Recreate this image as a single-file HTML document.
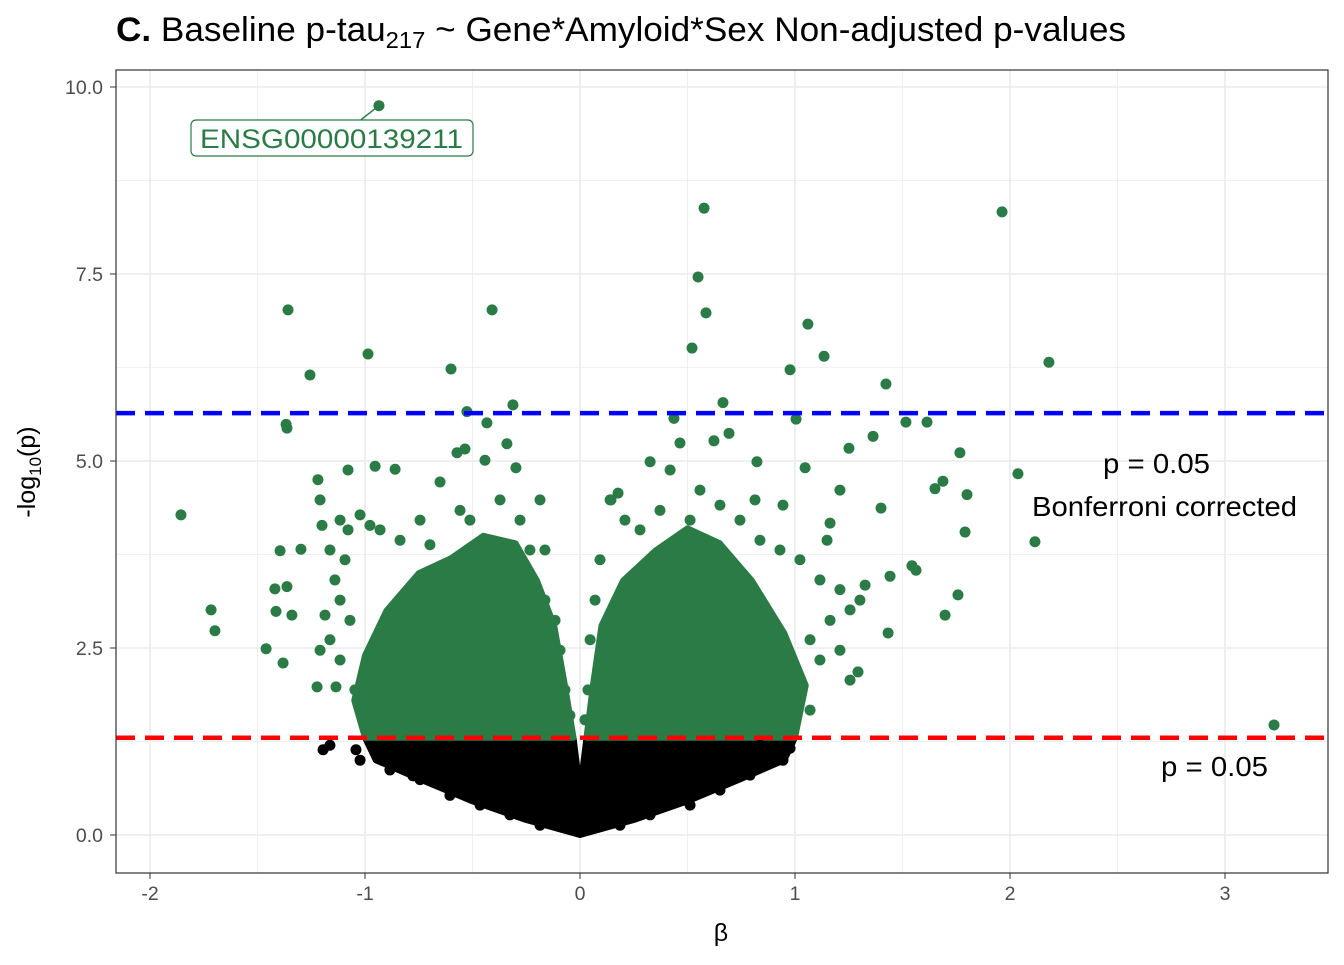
<!DOCTYPE html>
<html><head><meta charset="utf-8"><style>
body{margin:0;background:#fff;font-family:"Liberation Sans",Arial,sans-serif}
svg text{font-family:"Liberation Sans",Arial,sans-serif}
</style></head><body>
<svg id="chart" width="1344" height="960" viewBox="0 0 1344 960" xmlns="http://www.w3.org/2000/svg">
<rect width="1344" height="960" fill="#fff"/>
<text x="116" y="41" font-size="34" textLength="1010" lengthAdjust="spacingAndGlyphs" fill="#000"><tspan font-weight="bold">C.</tspan> Baseline p-tau<tspan font-size="23" dy="7">217</tspan><tspan dy="-7"> ~ Gene*Amyloid*Sex Non-adjusted p-values</tspan></text>
<g id="grid"></g>
<g id="clouds"></g>
<g id="points"></g>
<g id="lines"></g>
<rect x="116" y="70" width="1212" height="803" fill="none" stroke="#333" stroke-width="1.2"/>
<g id="axes"></g>
<text x="721" y="941" font-size="25" text-anchor="middle">β</text>
<text transform="translate(35,472) rotate(-90)" font-size="25" text-anchor="middle">-log<tspan font-size="17" dy="6">10</tspan><tspan dy="-6">(p)</tspan></text>
<text x="1103" y="473" font-size="28" textLength="107" lengthAdjust="spacingAndGlyphs">p = 0.05</text>
<text x="1032" y="516" font-size="28" textLength="265" lengthAdjust="spacingAndGlyphs">Bonferroni corrected</text>
<text x="1161" y="776" font-size="28" textLength="107" lengthAdjust="spacingAndGlyphs">p = 0.05</text>
<g id="label"></g>
</svg>
<script>
const xTicks=[-2,-1,0,1,2,3];
const yTicks=[0,2.5,5,7.5,10];
const yTickLabels=["0.0","2.5","5.0","7.5","10.0"];
const bonferroni=5.64;
const nominal=1.30;
const greenBeta=[-0.935,0.577,1.963,0.549,-1.358,-0.409,0.586,1.060,-0.986,0.521,1.135,2.181,-0.600,0.977,-1.256,1.423,-0.312,0.665,-0.526,1.516,1.614,-1.367,-1.363,1.005,1.363,1.251,1.767,2.037,1.688,1.651,1.800,-1.856,1.791,2.116,1.544,1.563,1.758,1.442,1.326,1.433,1.698,-1.716,-1.698,-1.460,-1.381,-1.414,-1.419,-1.363,-1.395,-1.298,-1.340,-1.223,-1.135,3.228,1.293,1.149,1.400,1.209,1.047,0.944,1.163,-0.953,-1.079,-1.219,-0.860,-0.651,-1.209,-1.200,-0.433,-0.340,-0.442,-0.535,0.326,0.465,0.623,0.693,0.823,0.437,-0.572,-0.186,0.144,0.177,-0.298,-1.079,-0.977,
-1.163,-1.116,-1.023,-0.930,-0.837,-0.744,-0.698,-0.558,-0.512,-0.372,-0.279,-0.233,-0.163,-1.140,-1.116,-1.070,-1.163,-1.116,-1.047,-0.977,-1.186,-1.209,-1.093,-0.163,-0.116,-0.093,-0.070,-0.047,
0.140,0.209,0.279,0.372,0.558,0.651,0.744,0.837,0.930,1.023,1.116,1.209,1.256,1.302,1.163,1.070,1.116,1.023,1.070,0.930,1.209,1.256,0.093,0.070,0.047,0.037,0.023,0.512,0.419,0.814];
const greenLogP=[9.75,8.38,8.33,7.46,7.02,7.02,6.98,6.83,6.43,6.51,6.40,6.32,6.23,6.22,6.15,6.03,5.75,5.78,5.66,5.52,5.52,5.49,5.44,5.56,5.33,5.17,5.11,4.83,4.73,4.63,4.55,4.28,4.05,3.92,3.60,3.54,3.21,3.46,3.34,2.70,2.94,3.01,2.73,2.49,2.30,2.99,3.29,3.32,3.80,3.82,2.94,1.98,1.98,1.47,2.18,3.94,4.37,4.61,4.91,4.41,4.17,4.93,4.88,4.75,4.89,4.72,4.48,4.14,5.51,5.23,5.01,5.16,4.99,5.24,5.27,5.37,4.99,5.57,5.11,4.48,4.48,4.57,4.91,4.08,4.14,
3.81,4.21,4.28,4.08,3.94,4.21,3.88,4.34,4.21,4.48,4.21,3.81,3.81,3.41,3.14,2.87,2.61,2.34,1.94,1.80,2.94,2.47,3.68,3.14,2.87,2.47,1.94,1.60,
4.48,4.21,4.08,4.34,4.61,4.41,4.21,3.94,3.81,3.68,3.41,3.28,3.01,3.14,2.87,2.61,2.34,1.94,1.67,1.80,2.47,2.07,3.68,3.14,2.61,1.94,1.54,4.21,4.88,4.48];
const blackBeta=[-1.195,-1.042,-0.777,0.944,-1.163,-1.023,-0.884,-0.744,-0.605,-0.465,-0.326,-0.186,0.186,0.326,0.512,0.651,0.791,0.884,0.977,-0.651,-0.837,0.837];
const blackLogP=[1.14,1.14,0.79,1.00,1.20,1.00,0.87,0.74,0.53,0.40,0.27,0.13,0.13,0.27,0.40,0.60,0.80,1.00,1.16,1.00,1.14,1.20];
const leftCloudBeta=[-0.03,-0.07,-0.12,-0.2,-0.3,-0.45,-0.6,-0.75,-0.9,-1.0,-1.05,-1.0];
const leftCloudLogP=[1.3,2.0,2.8,3.4,3.9,4.0,3.7,3.5,3.0,2.4,1.8,1.3];
const rightCloudBeta=[0.03,0.06,0.1,0.2,0.35,0.5,0.65,0.8,0.95,1.05,1.0];
const rightCloudLogP=[1.3,2.0,2.8,3.4,3.8,4.1,3.9,3.4,2.7,2.0,1.3];
const blackCloudBeta=[-1.0,-0.95,-0.75,-0.5,-0.25,0,0.25,0.5,0.75,0.95,1.0,0.03,0,-0.03];
const blackCloudLogP=[1.3,1.0,0.75,0.45,0.2,0,0.2,0.45,0.75,1.0,1.3,1.3,0.6,1.3];
const GREEN="#2a7b45";
const NS="http://www.w3.org/2000/svg";
const X=b=>580+215*b;
const Y=v=>835-74.8*v;
function mk(t,a,p){const e=document.createElementNS(NS,t);for(const k in a)e.setAttribute(k,a[k]);document.getElementById(p).appendChild(e);return e;}
for(let v=-2.5;v<=3.5;v+=0.5){const x=X(v);if(x<116||x>1328)continue;const major=Number.isInteger(v);
const l=mk('line',{x1:x,x2:x,y1:70,y2:873,stroke:"#ebebeb","stroke-width":major?1.6:0.8},'grid');

}
for(let v=-1.25;v<=10.5;v+=1.25){const y=Y(v);if(y<70||y>873)continue;const major=Math.abs(v/2.5-Math.round(v/2.5))<1e-6;
const l=mk('line',{x1:116,x2:1328,y1:y,y2:y,stroke:"#ebebeb","stroke-width":major?1.6:0.8},'grid');

}
xTicks.forEach(t=>{mk('line',{x1:X(t),x2:X(t),y1:873,y2:879,stroke:"#333"},'axes');
const tx=mk('text',{x:X(t),y:900,"font-size":19.5,fill:"#4d4d4d","text-anchor":"middle"},'axes');tx.textContent=String(t);

});
yTicks.forEach((t,i)=>{mk('line',{x1:110,x2:116,y1:Y(t),y2:Y(t),stroke:"#333"},'axes');
const tx=mk('text',{x:103,y:Y(t)+7,"font-size":19.5,fill:"#4d4d4d","text-anchor":"end"},'axes');tx.textContent=yTickLabels[i];

});
function poly(bs,ps,col,name){const pts=bs.map((b,i)=>X(b)+","+Y(ps[i])).join(" ");
const p=mk('polygon',{points:pts,fill:col,stroke:col,"stroke-width":6,"stroke-linejoin":"round"},'clouds');

}
poly(blackCloudBeta,blackCloudLogP,"#000","nonsignificant-cloud");
poly(leftCloudBeta,leftCloudLogP,GREEN,"significant-cloud-negative");
poly(rightCloudBeta,rightCloudLogP,GREEN,"significant-cloud-positive");
greenBeta.forEach((b,i)=>{const c=mk('circle',{cx:X(b),cy:Y(greenLogP[i]),r:5.5,fill:GREEN},'points');

});
blackBeta.forEach((b,i)=>{const c=mk('circle',{cx:X(b),cy:Y(blackLogP[i]),r:5.5,fill:"#000"},'points');

});
const bl=mk('line',{x1:116,x2:1328,y1:Y(bonferroni),y2:Y(bonferroni),stroke:"#0000ff","stroke-width":4.5,"stroke-dasharray":"19 10"},'lines');


const rl=mk('line',{x1:116,x2:1328,y1:Y(nominal),y2:Y(nominal),stroke:"#ff0000","stroke-width":4.5,"stroke-dasharray":"19 10"},'lines');


const lx=X(greenBeta[0]),ly=Y(greenLogP[0]);
const ll=mk('line',{x1:lx,y1:ly,x2:lx-18,y2:ly+14,stroke:GREEN,"stroke-width":1.5},'label');


const lr=mk('rect',{x:191,y:120,width:282,height:36,rx:5,fill:"#fff",stroke:GREEN,"stroke-width":1.2},'label');


const lt=mk('text',{x:200,y:148,"font-size":27,fill:GREEN,textLength:263,lengthAdjust:"spacingAndGlyphs"},'label');lt.textContent="ENSG00000139211";


</script>
</body></html>
